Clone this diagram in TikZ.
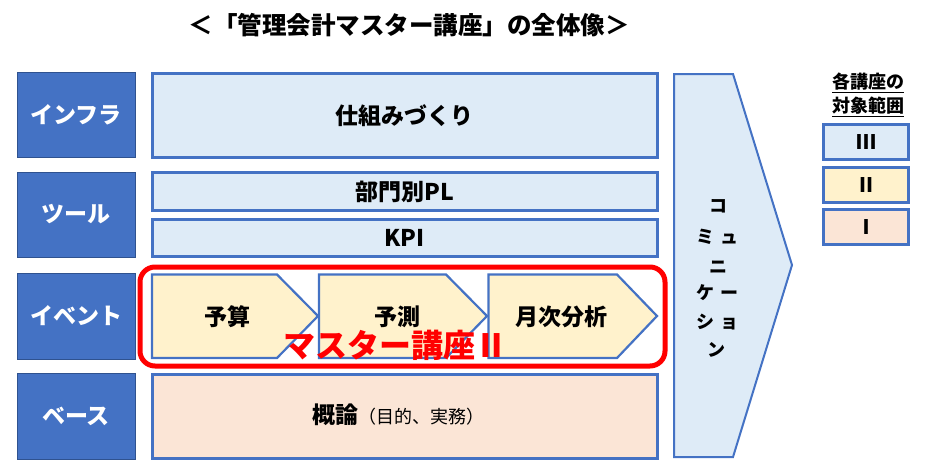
\documentclass[tikz,border=0pt]{standalone}
\usepackage{fontspec}
\setmainfont{Noto Sans CJK JP}
\definecolor{dblue}{HTML}{4472C4}
\definecolor{dborder}{HTML}{2F528F}
\definecolor{lblue}{HTML}{DEEBF7}
\definecolor{cream}{HTML}{FFF2CC}
\definecolor{peach}{HTML}{FBE5D6}
\definecolor{myred}{HTML}{FF0000}
\begin{document}
\begin{tikzpicture}[x=1pt,y=-1pt,
  lab/.style={fill=dblue, draw=dborder, line width=0.8pt, text=white,
    minimum width=118pt, minimum height=85pt, inner sep=0pt,
    font=\fontsize{23}{23}\selectfont\bfseries},
  midbox/.style={draw=dblue, line width=3pt, minimum width=505pt, inner sep=0pt},
  bigtxt/.style={font=\fontsize{23}{23}\selectfont\bfseries, inner sep=0pt},
  chev/.style={draw=dblue, line width=2.2pt, fill=cream, line join=miter},
  legbox/.style={draw=dblue, line width=3pt, minimum width=85pt, minimum height=35pt,
    inner sep=0pt, font=\fontsize{20}{20}\selectfont\bfseries},
  comm/.style={font=\fontsize{18}{18}\selectfont\bfseries, inner sep=0pt}
]
\useasboundingbox (0,0) rectangle (933,472);

% title
\node[font=\fontsize{24.5}{24.5}\selectfont\bfseries, inner sep=0pt] (title) at (409,25)
  {＜「管理会計マスター講座」の全体像＞};

% left labels
\node[lab] (infra) at (76,114.5) {インフラ};
\node[lab] (tool)  at (76,214.5) {ツール};
\node[lab, minimum height=86pt] (event) at (76,316) {イベント};
\node[lab, minimum height=86pt] (base)  at (76,416) {ベース};

% middle boxes
\node[midbox, fill=lblue, minimum height=84pt] (shikumi) at (404.5,115.5) {};
\node[bigtxt] (shikumiT) at (shikumi.center) {仕組みづくり};
\node[midbox, fill=lblue, minimum height=38pt] (bumon) at (404.5,191.5) {};
\node[bigtxt] (bumonT) at (bumon.center) {部門別PL};
\node[midbox, fill=lblue, minimum height=37pt] (kpi) at (404.5,238) {};
\node[bigtxt] (kpiT) at (kpi.center) {KPI};
\node[midbox, fill=peach, minimum height=84pt] (gairon) at (404.5,416) {};
\node[inner sep=0pt] (gaironT) at (398,415)
  {{\fontsize{23}{23}\selectfont\bfseries 概論}{\fontsize{18}{18}\selectfont （目的、実務）}};

% chevrons
\draw[chev] (152,274.5) -- (277,274.5) -- (318,316) -- (277,358) -- (152,358) -- cycle;
\draw[chev] (319,274.5) -- (446,274.5) -- (487,316) -- (446,358) -- (319,358) -- cycle;
\draw[chev] (488.5,274.5) -- (617,274.5) -- (657,316) -- (617,358) -- (488.5,358) -- cycle;
\node[bigtxt] (yosan) at (227,317) {予算};
\node[bigtxt] (yosoku) at (397,317) {予測};
\node[bigtxt] (getsuji) at (561,317) {月次分析};

% red frame
\draw[myred, line width=5pt, rounded corners=15pt] (140,267) rectangle (665,366);
\node[text=myred, font=\fontsize{32}{32}\selectfont\bfseries, inner sep=0pt] (master) at (395,345) {マスター講座Ⅱ};

% communication arrow
\draw[draw=dblue, fill=lblue, line width=2pt, line join=miter]
  (674,74) -- (733,74) -- (792,265) -- (733,457) -- (674,457) -- cycle;
\node[comm] (c1) at (718,206) {コ};
\node[comm] (c2) at (717.5,237) {ミ\hspace{7pt}ュ};
\node[comm] (c3) at (718,267) {ニ};
\node[comm] (c4) at (717.5,293) {ケ\hspace{7pt}ー};
\node[comm] (c5) at (717.5,322) {シ\hspace{7pt}ョ};
\node[comm] (c6) at (716,350) {ン};

% legend
\node[font=\fontsize{18}{18}\selectfont\bfseries, inner sep=0pt] (leg1) at (868,83) {\underline{各講座の}};
\node[font=\fontsize{18}{18}\selectfont\bfseries, inner sep=0pt] (leg2) at (868,107) {\underline{対象範囲}};
\node[legbox, fill=lblue] (l3) at (866,142) {Ⅲ};
\node[legbox, fill=cream] (l2) at (866,185) {Ⅱ};
\node[legbox, fill=peach] (l1) at (866,227) {Ⅰ};
\end{tikzpicture}
\end{document}
